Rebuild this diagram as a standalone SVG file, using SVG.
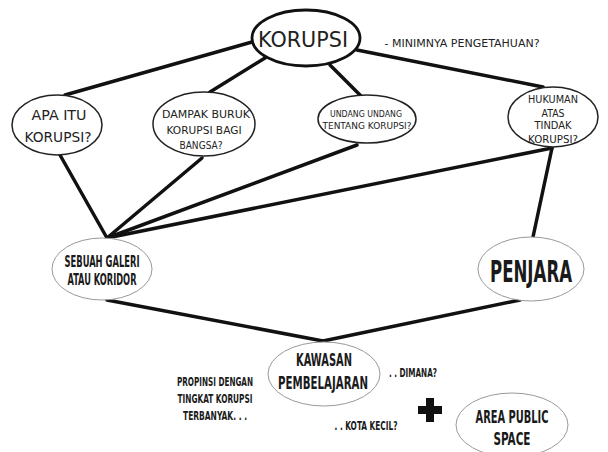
<svg xmlns="http://www.w3.org/2000/svg" width="608" height="452" viewBox="0 0 608 452">
<style>
.bg{fill:#ffffff}
.link{stroke:#111;stroke-width:3.5;fill:none;stroke-linecap:round}
.main{fill:#fff;stroke:#111;stroke-width:2.8}
.hand{fill:#fff;stroke:#222;stroke-width:1.5}
.thin{fill:#fff;stroke:#999;stroke-width:1}
.h{font-family:"DejaVu Sans","Liberation Sans",sans-serif;fill:#222;text-anchor:middle}
.b{font-family:"DejaVu Sans Condensed","Liberation Sans Narrow","Liberation Sans",sans-serif;font-weight:bold;fill:#1a1a1a;text-anchor:middle}
</style>
<rect class="bg" x="0" y="0" width="608" height="452"/>
<g id="connectors">
<line class="link" x1="252" y1="42" x2="65" y2="95"/>
<line class="link" x1="265" y1="58" x2="210" y2="92"/>
<line class="link" x1="330" y1="65" x2="362" y2="97"/>
<line class="link" x1="357" y1="50" x2="543" y2="87"/>
<line class="link" x1="60" y1="155" x2="107" y2="238"/>
<line class="link" x1="202" y1="158" x2="107" y2="238"/>
<line class="link" x1="357" y1="145" x2="107" y2="238"/>
<line class="link" x1="552" y1="148" x2="107" y2="238"/>
<line class="link" x1="552" y1="148" x2="533" y2="237"/>
<line class="link" x1="107" y1="300" x2="323" y2="341"/>
<line class="link" x1="520" y1="300" x2="323" y2="341"/>
</g>
<g id="korupsi">
<ellipse class="main" cx="306" cy="38" rx="54" ry="28"/>
<text class="h" x="303" y="47" font-size="22" textLength="90" lengthAdjust="spacingAndGlyphs">KORUPSI</text>
</g>
<g id="note-minim">
<text class="h" x="462" y="47" font-size="10" textLength="155" lengthAdjust="spacingAndGlyphs">- MINIMNYA PENGETAHUAN?</text>
</g>
<g id="apa-itu">
<ellipse class="hand" cx="57" cy="125" rx="45" ry="30"/>
<text class="h" x="59" y="120" font-size="14" textLength="55" lengthAdjust="spacingAndGlyphs">APA ITU</text>
<text class="h" x="58" y="142" font-size="14" textLength="67" lengthAdjust="spacingAndGlyphs">KORUPSI?</text>
</g>
<g id="dampak">
<ellipse class="hand" cx="204" cy="124" rx="51" ry="32"/>
<text class="h" x="206" y="118" font-size="11" textLength="88" lengthAdjust="spacingAndGlyphs">DAMPAK BURUK</text>
<text class="h" x="204" y="134" font-size="11" textLength="75" lengthAdjust="spacingAndGlyphs">KORUPSI BAGI</text>
<text class="h" x="201" y="149" font-size="11" textLength="43" lengthAdjust="spacingAndGlyphs">BANGSA?</text>
</g>
<g id="undang">
<ellipse class="hand" cx="367" cy="119" rx="49" ry="24"/>
<text class="h" x="366" y="117" font-size="9" textLength="72" lengthAdjust="spacingAndGlyphs">UNDANG UNDANG</text>
<text class="h" x="367" y="129" font-size="9" textLength="89" lengthAdjust="spacingAndGlyphs">TENTANG KORUPSI?</text>
</g>
<g id="hukuman">
<ellipse class="hand" cx="553" cy="117" rx="45" ry="30"/>
<text class="h" x="553" y="103" font-size="10" textLength="50" lengthAdjust="spacingAndGlyphs">HUKUMAN</text>
<text class="h" x="553" y="117" font-size="10" textLength="23" lengthAdjust="spacingAndGlyphs">ATAS</text>
<text class="h" x="553" y="129" font-size="10" textLength="37" lengthAdjust="spacingAndGlyphs">TINDAK</text>
<text class="h" x="553" y="143" font-size="10" textLength="50" lengthAdjust="spacingAndGlyphs">KORUPSI?</text>
</g>
<g id="galeri">
<ellipse class="thin" cx="102" cy="269" rx="50" ry="31"/>
<text class="b" x="0" y="0" font-size="9.2" transform="translate(102,267) scale(1,1.8)" textLength="75" lengthAdjust="spacingAndGlyphs">SEBUAH GALERI</text>
<text class="b" x="0" y="0" font-size="9.2" transform="translate(102,285) scale(1,1.8)" textLength="69" lengthAdjust="spacingAndGlyphs">ATAU KORIDOR</text>
</g>
<g id="penjara">
<ellipse class="thin" cx="531" cy="269" rx="53" ry="32"/>
<text class="b" x="0" y="0" font-size="18.4" transform="translate(531,282) scale(1,1.64)" textLength="82" lengthAdjust="spacingAndGlyphs">PENJARA</text>
</g>
<g id="kawasan">
<ellipse class="thin" cx="324" cy="374" rx="56" ry="32"/>
<text class="b" x="0" y="0" font-size="11" transform="translate(324,366) scale(1,1.65)" textLength="56" lengthAdjust="spacingAndGlyphs">KAWASAN</text>
<text class="b" x="0" y="0" font-size="11" transform="translate(323,389) scale(1,1.65)" textLength="90" lengthAdjust="spacingAndGlyphs">PEMBELAJARAN</text>
</g>
<g id="propinsi">
<text class="b" x="0" y="0" font-size="8" transform="translate(215,386) scale(1,1.6)" textLength="76" lengthAdjust="spacingAndGlyphs">PROPINSI DENGAN</text>
<text class="b" x="0" y="0" font-size="8" transform="translate(215,403) scale(1,1.6)" textLength="75" lengthAdjust="spacingAndGlyphs">TINGKAT KORUPSI</text>
<text class="b" x="0" y="0" font-size="8" transform="translate(215,420) scale(1,1.6)" textLength="64" lengthAdjust="spacingAndGlyphs">TERBANYAK. . .</text>
</g>
<g id="dimana">
<text class="b" x="0" y="0" font-size="8" transform="translate(413,377) scale(1,1.6)" textLength="48" lengthAdjust="spacingAndGlyphs">. . DIMANA?</text>
</g>
<g id="kota-kecil">
<text class="b" x="0" y="0" font-size="8" transform="translate(366,430) scale(1,1.6)" textLength="63" lengthAdjust="spacingAndGlyphs">. . KOTA KECIL?</text>
</g>
<g id="plus">
<rect x="426" y="398" width="8" height="24" fill="#111"/>
<rect x="418" y="406" width="24" height="8" fill="#111"/>
</g>
<g id="area-public">
<ellipse class="thin" cx="512" cy="425" rx="56" ry="32"/>
<text class="b" x="0" y="0" font-size="11" transform="translate(512,423) scale(1,1.62)" textLength="73" lengthAdjust="spacingAndGlyphs">AREA PUBLIC</text>
<text class="b" x="0" y="0" font-size="11" transform="translate(512,445) scale(1,1.62)" textLength="37" lengthAdjust="spacingAndGlyphs">SPACE</text>
</g>
</svg>
